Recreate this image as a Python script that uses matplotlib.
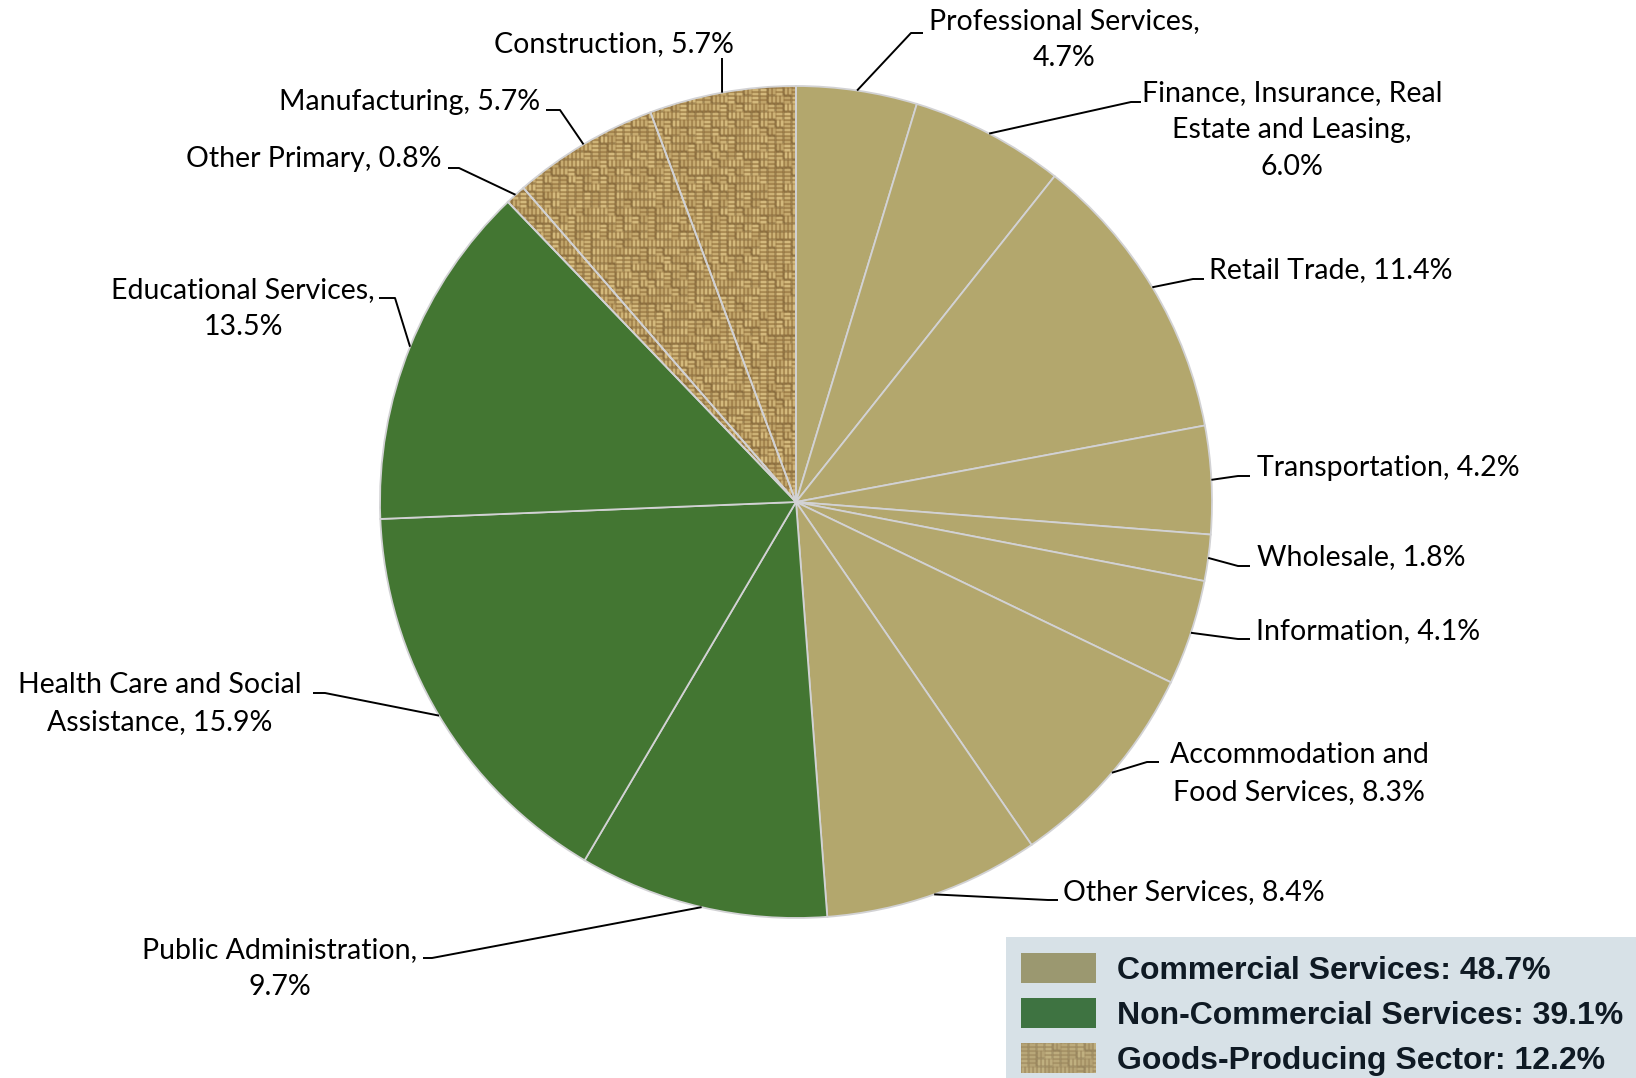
import numpy as np
import matplotlib
matplotlib.use("Agg")
import matplotlib.pyplot as plt
from matplotlib.patches import Rectangle

W, H = 1636, 1078
DPI = 100

# ---- data -----------------------------------------------------------------
sectors = [
    "Professional Services",
    "Finance, Insurance, Real Estate and Leasing",
    "Retail Trade",
    "Transportation",
    "Wholesale",
    "Information",
    "Accommodation and Food Services",
    "Other Services",
    "Public Administration",
    "Health Care and Social Assistance",
    "Educational Services",
    "Other Primary",
    "Manufacturing",
    "Construction",
]
shares = [4.7, 6.0, 11.4, 4.2, 1.8, 4.1, 8.3, 8.4, 9.7, 15.9, 13.5, 0.8, 5.7, 5.7]
sector_group = ["Commercial Services"] * 8 + ["Non-Commercial Services"] * 3 + ["Goods-Producing Sector"] * 3

# label wording with line breaks; the value is filled in from `shares`
label_templates = [
    "Professional Services,\n{}",
    "Finance, Insurance, Real\nEstate and Leasing,\n{}",
    "Retail Trade, {}",
    "Transportation, {}",
    "Wholesale, {}",
    "Information, {}",
    "Accommodation and\nFood Services, {}",
    "Other Services, {}",
    "Public Administration,\n{}",
    "Health Care and Social\nAssistance, {}",
    "Educational Services,\n{}",
    "Other Primary, {}",
    "Manufacturing, {}",
    "Construction, {}",
]

groups = ["Commercial Services", "Non-Commercial Services", "Goods-Producing Sector"]
group_shares = [48.7, 39.1, 12.2]

# ---- styling / layout -----------------------------------------------------
pie_fill = {"Commercial Services": "#b3a76d",
            "Non-Commercial Services": "#437632",
            "Goods-Producing Sector": "none"}
key_fill = {"Commercial Services": "#9b9870",
            "Non-Commercial Services": "#3e7341",
            "Goods-Producing Sector": None}

CX, CY, R = 796, 502, 416

# (text x, first baseline y, alignment, elbow point, leader end point)
label_layout = [
    (1064, 29, "center", (911, 33), (923, 33)),
    (1292, 101, "center", (1131, 102), (1141, 102)),
    (1209, 278, "left", (1193, 279), (1204, 279)),
    (1257, 476, "left", (1238, 476), (1250, 476)),
    (1257, 565, "left", (1238, 566), (1250, 566)),
    (1256, 639, "left", (1238, 639), (1250, 639)),
    (1299, 763, "center", (1147, 762), (1159, 762)),
    (1063, 900, "left", (1048, 900), (1058, 900)),
    (280, 958, "center", (432, 958), (423, 958)),
    (160, 693, "center", (325, 693), (313, 693)),
    (243, 298, "center", (395, 298), (379, 298)),
    (442, 167, "right", (459, 168), (448, 168)),
    (540, 110, "right", (560, 110), (546, 110)),
    (734, 52, "right", (722, 58), (722, 58)),
]
LINE_STEP = 37
LABEL_FONT = "Lato"
LABEL_SIZE = 20.5


def _hash(a, b):
    return ((a * 73856093) ^ (b * 19349663) ^ ((a + b) * 83492791)) & 0xFFFF


def weave(h, w):
    """Burlap-like basket weave texture as an RGB array."""
    yy, xx = np.mgrid[0:h, 0:w]
    cell = 8
    ci, cj = yy // cell, xx // cell
    v, u = yy % cell, xx % cell
    code = _hash(ci, cj)
    horiz = (code % 5) < 2 + (code // 7) % 2  # irregular mix of directions
    # two threads per cell, 2 px wide, 7 px long
    across = np.where(horiz, v, u)
    along = np.where(horiz, u, v)
    on_thread = ((across % 4) == 1) | ((across % 4) == 2)
    body = along < 7
    prof = np.where((across % 4) == 1, 0.85, 1.0)
    tone = 0.7 + 0.3 * ((code >> 3) % 4) / 3.0
    b = np.where(on_thread & body, prof * tone, 0.0)
    gap = (~body) & on_thread
    light = np.array([248, 226, 160]) / 255.0
    mid = np.array([146, 112, 60]) / 255.0
    dark = np.array([84, 62, 32]) / 255.0
    img = mid + (light - mid) * b[..., None]
    img = np.where(gap[..., None], dark, img)
    # soften with a small box blur
    acc = np.zeros_like(img)
    for dy in (-1, 0, 1):
        for dx in (-1, 0, 1):
            wgt = 2.0 if (dx == 0 and dy == 0) else 1.0
            acc += wgt * np.roll(np.roll(img, dy, axis=0), dx, axis=1)
    return acc / 10.0


fig = plt.figure(figsize=(W / DPI, H / DPI), dpi=DPI)
ax = fig.add_axes([0, 0, 1, 1])

colors = [pie_fill[g] for g in sector_group]
wedges, _ = ax.pie(
    shares, colors=colors, startangle=-90, counterclock=True,
    center=(CX, CY), radius=R,
    wedgeprops=dict(edgecolor="#d2d2d4", linewidth=1.3),
)

texture = weave(H, W)
for w, g in zip(wedges, sector_group):
    if g == "Goods-Producing Sector":
        im = ax.imshow(texture, extent=(0, W, H, 0), origin="upper",
                       interpolation="bilinear", zorder=0.9)
        im.set_clip_path(w)

# leader lines and labels
for w, tmpl, v, (tx, ty, ha, elbow, end) in zip(wedges, label_templates, shares, label_layout):
    mid = np.deg2rad((w.theta1 + w.theta2) / 2)
    rx, ry = CX + R * np.cos(mid), CY + R * np.sin(mid)
    ax.plot([rx, elbow[0], end[0]], [ry, elbow[1], end[1]],
            color="black", lw=1.4, zorder=3, solid_capstyle="butt")
    for i, line in enumerate(tmpl.format(f"{v:.1f}%").split("\n")):
        ax.text(tx, ty + i * LINE_STEP, line, ha=ha, va="baseline",
                fontfamily=LABEL_FONT, fontsize=LABEL_SIZE, color="black")

# key box
ax.add_patch(Rectangle((1006, 937), W - 1006, H - 937, facecolor="#d7e1e7",
                       edgecolor="none", zorder=2))
key_texture = 0.55 * texture[:30, :75] + 0.45 * np.array([0.66, 0.64, 0.52])
for i, (g, v) in enumerate(zip(groups, group_shares)):
    y0 = 953 + i * 45
    if key_fill[g] is None:
        ax.imshow(key_texture, extent=(1021, 1096, y0 + 30, y0),
                  origin="upper", interpolation="bilinear", zorder=3)
    else:
        ax.add_patch(Rectangle((1021, y0), 75, 30, facecolor=key_fill[g],
                               edgecolor="none", zorder=3))
    ax.text(1117, y0 + 26, f"{g}: {v:.1f}%", ha="left", va="baseline",
            fontfamily="Liberation Sans", fontweight="bold", fontsize=23,
            color="#0f1a24", zorder=4)

ax.set_xlim(0, W)
ax.set_ylim(H, 0)
ax.set_aspect("equal")
ax.axis("off")
fig.savefig("out.png", dpi=DPI, facecolor="white")
